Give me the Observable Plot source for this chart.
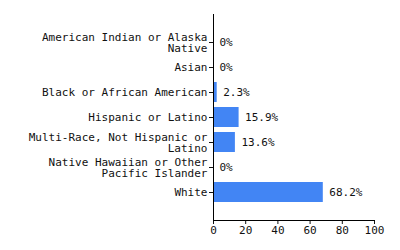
<!DOCTYPE html>
<html>
<head>
<meta charset="utf-8">
<script src="https://cdn.jsdelivr.net/npm/d3@7"></script>
<script src="https://cdn.jsdelivr.net/npm/@observablehq/plot@0.6"></script>
<style>
  html, body { margin: 0; padding: 0; background: white; }
</style>
</head>
<body>
<div id="chart"></div>
<script>
const categories = [
  "American Indian or Alaska Native",
  "Asian",
  "Black or African American",
  "Hispanic or Latino",
  "Multi-Race, Not Hispanic or Latino",
  "Native Hawaiian or Other Pacific Islander",
  "White"
];
const values = [0, 0, 2.3, 15.9, 13.6, 0, 68.2];
const tickLabels = [
  "American Indian or Alaska\nNative",
  "Asian",
  "Black or African American",
  "Hispanic or Latino",
  "Multi-Race, Not Hispanic or\nLatino",
  "Native Hawaiian or Other\nPacific Islander",
  "White"
];
const xTicks = [0, 20, 40, 60, 80, 100];

const data = categories.map((c, i) => ({category: c, value: values[i]}));
const labelMap = new Map(categories.map((c, i) => [c, tickLabels[i]]));

const chart = Plot.plot({
  width: 400,
  height: 250,
  marginTop: 14,
  marginBottom: 30,
  marginLeft: 213,
  marginRight: 26,
  style: {fontFamily: "'DejaVu Sans Mono', monospace", fontSize: "11px", color: "#111", background: "white"},
  x: {domain: [0, 100], ticks: xTicks, label: null, tickSize: 4, tickPadding: 2},
  y: {domain: categories, paddingInner: 0.2, paddingOuter: 0.6, label: null, tickSize: 4, tickPadding: 2,
      tickFormat: d => labelMap.get(d)},
  marks: [
    Plot.barX(data, {x: "value", y: "category", fill: "#4285f4"}),
    Plot.text(data, {x: "value", y: "category", text: d => d.value + "%", textAnchor: "start", dx: 6, fill: "#111"}),
    Plot.ruleX([0], {stroke: "#000"}),
    Plot.frame({anchor: "bottom", stroke: "#000"})
  ]
});
document.getElementById("chart").appendChild(chart);
</script>
</body>
</html>
